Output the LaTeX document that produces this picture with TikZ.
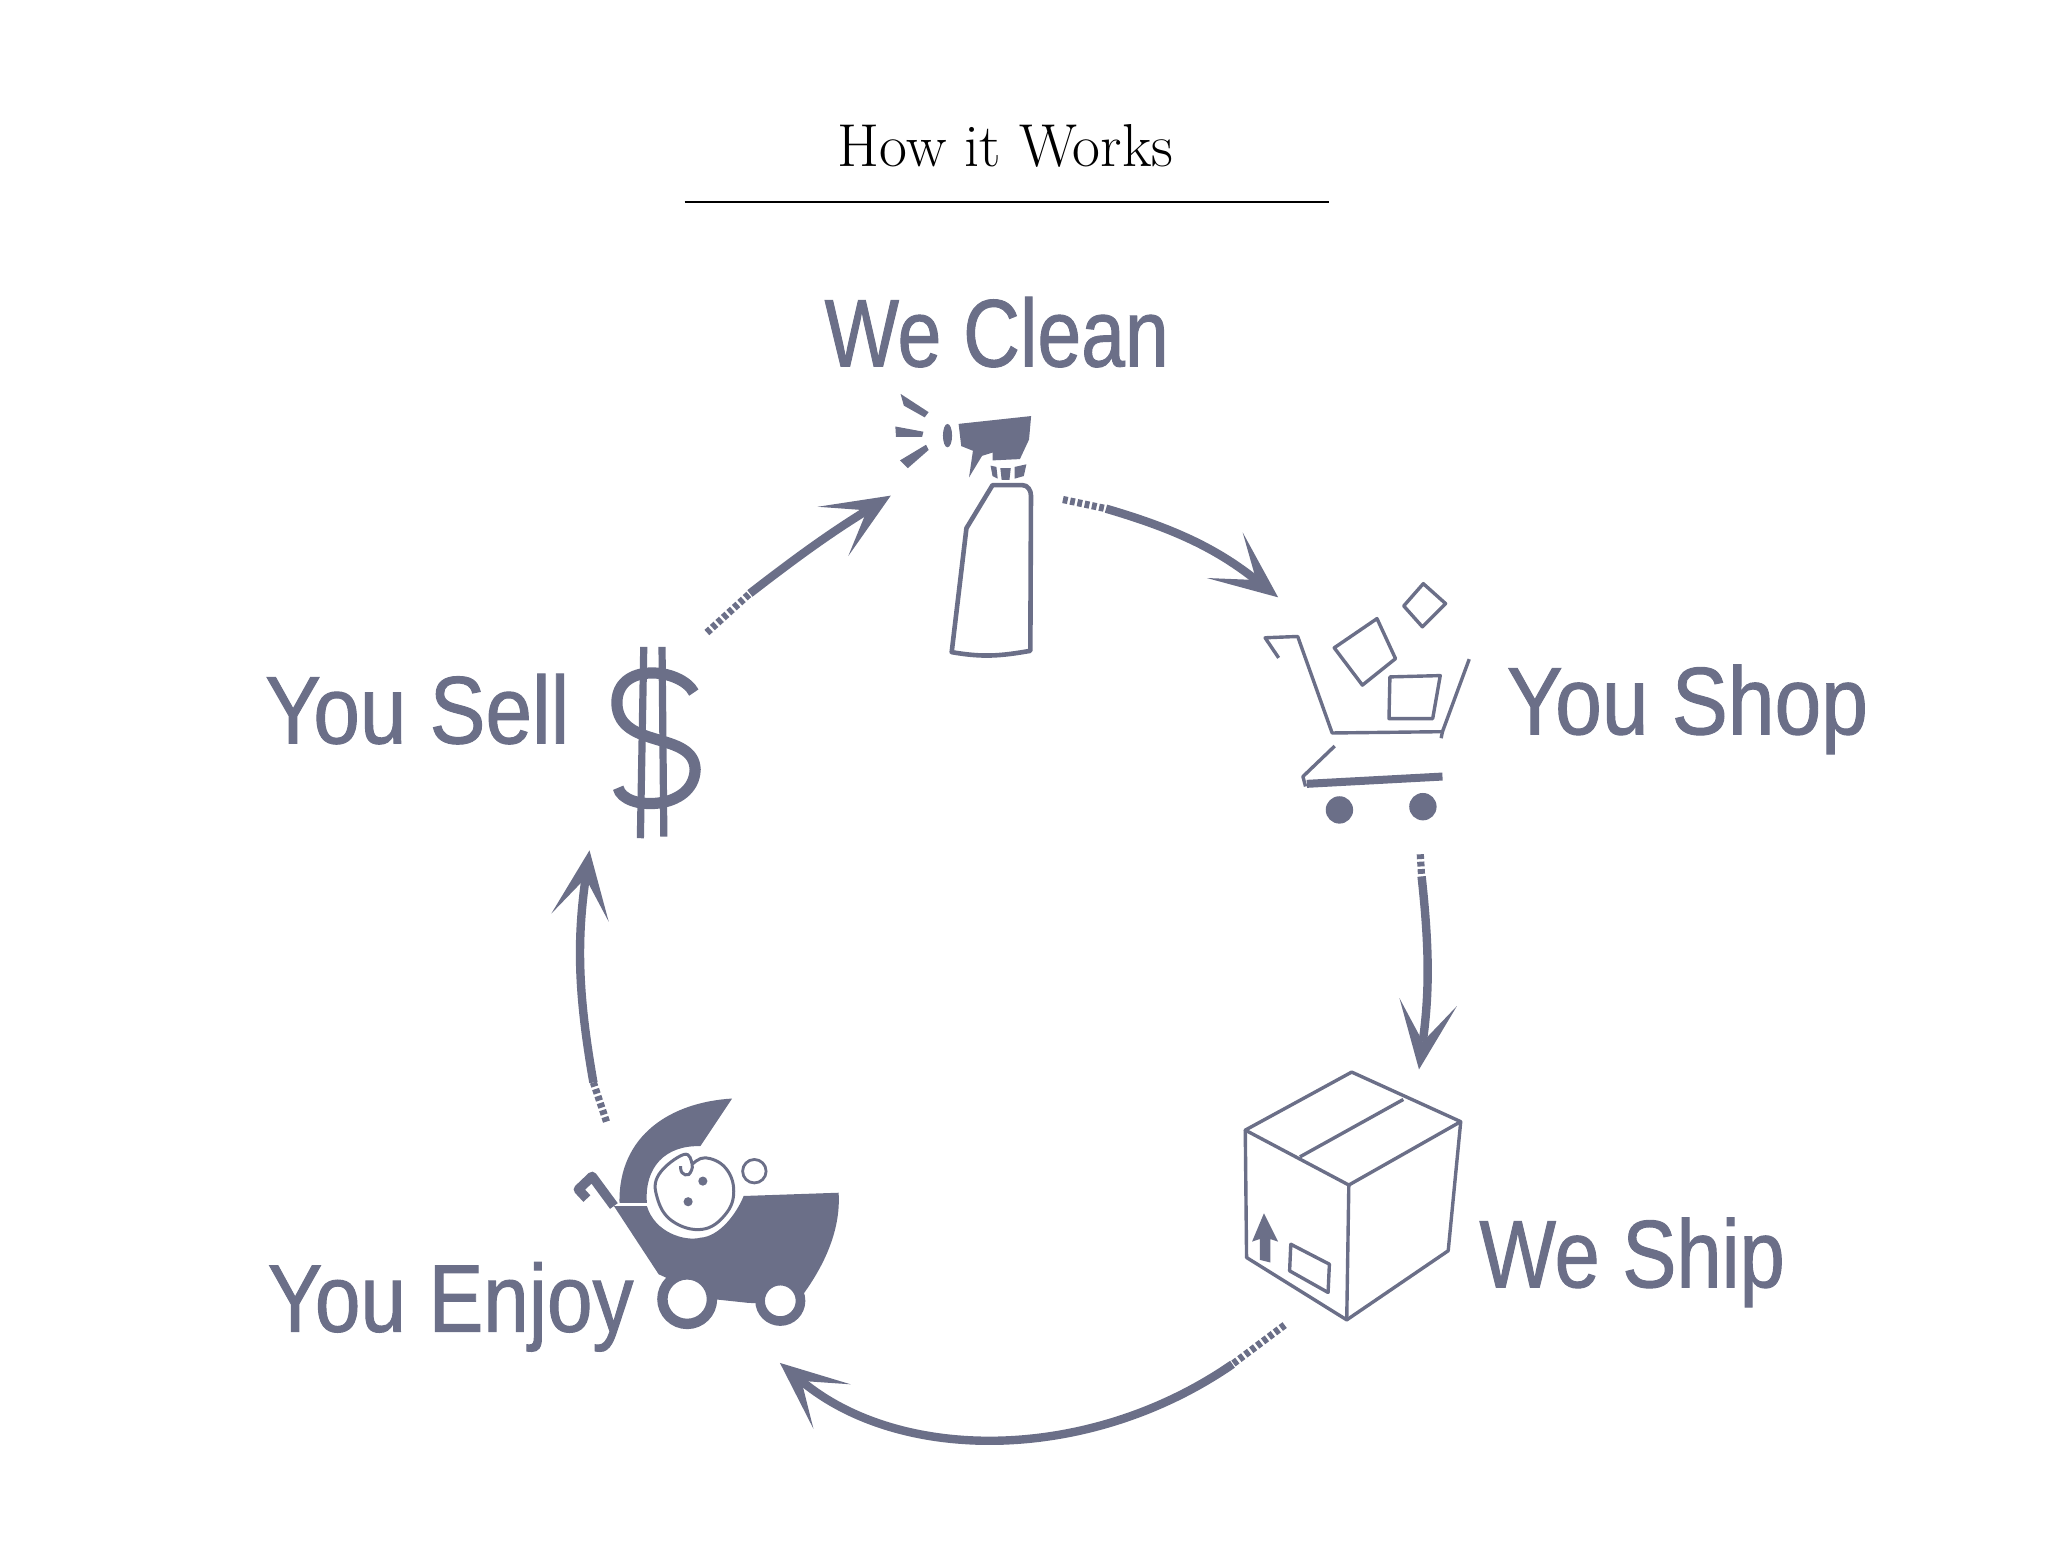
\documentclass[tikz,border=0pt]{standalone}
\usepackage{fontspec}
\setsansfont[FakeStretch=0.82, FakeBold=1]{Liberation Sans}
\usepackage{xcolor}
\usetikzlibrary{arrows.meta}
\definecolor{slate}{RGB}{107,111,136}

\begin{document}
\begin{tikzpicture}[
    x=0.6521pt,
    y=-0.6521pt,
    steplabel/.style={anchor=base west, inner sep=0pt, text=slate, font=\sffamily\fontsize{48}{48}\selectfont},
    thinline/.style={draw=slate, line width=1.7pt, line join=round},
    flow/.style={draw=slate, line width=4.2pt, -{Stealth[length=34pt, width=29pt, inset=20pt, line width=0pt, sep=0pt]}},
    hatch/.style={draw=slate, line width=3.6pt, dash pattern=on 2.4pt off 1.3pt}
]
    \useasboundingbox (0,0) rectangle (1568,1200);

    % Title
    \node[inner sep=0pt, anchor=base, font=\fontsize{30.3}{30}\selectfont] (title) at (771,128) {How it Works};
    \coordinate (ruleL) at (525,155);
    \coordinate (ruleR) at (1019,155);
    \draw[line width=1pt] (ruleL) -- (ruleR);

    % Labels
    \node[steplabel] (clean) at (632,281) {We Clean};
    \node[steplabel] (shop) at (1155,563) {\addfontfeature{FakeStretch=0.875}You Shop};
    \node[steplabel] (ship) at (1134,987) {\addfontfeature{FakeStretch=0.846}We Ship};
    \node[steplabel] (enjoy) at (205,1021) {\addfontfeature{FakeStretch=0.853}You Enjoy};
    \node[steplabel] (sell) at (203,570) {\addfontfeature{FakeStretch=0.872}You Sell};

    % Spray bottle
    \draw[thinline, line width=2.3pt] (761,372) -- (784,372) to[out=0,in=90] (790.5,380) -- (790,499)
        to[out=190,in=-10] (729.7,500) -- (741,405) -- cycle;
    \fill[slate] (735,325) -- (790.6,319) -- (789,337) -- (782,352) -- (761,353) -- (761,347)
        -- (753,349.5) -- (743,366) -- (746,345.6) -- (737,342) -- cycle;
    \fill[slate] (726.5,334) ellipse (3.5 and 9);
    \fill[slate] (759.5,357) -- (764,358) -- (765,367) -- (761,365) -- cycle;
    \fill[slate] (767,359) -- (775,359) -- (774,368) -- (768,368) -- cycle;
    \fill[slate] (778,358) -- (787,356) -- (785,365) -- (778,367) -- cycle;
    \fill[slate] (690.5,302) -- (712,316) -- (709,320) -- (693,311) -- cycle;
    \fill[slate] (686.5,327) -- (708,331) -- (707,335) -- (687,335) -- cycle;
    \fill[slate] (690,353) -- (710,341) -- (712,345) -- (696,359) -- cycle;

    % Shopping cart
    \draw[thinline] (980.4,504.4) -- (970,489) -- (995,488) -- (1021.4,562) -- (1106,561) -- (1126.5,505.4);
    \draw[thinline] (1106,561) -- (1105,566);
    \draw[thinline] (1023.4,572) -- (999,595.4) -- (1001,603);
    \draw[slate, line width=4pt] (1002,601) -- (1106,595.4);
    \fill[slate] (1027,621) circle (10.5);
    \fill[slate] (1091,618.5) circle (10.5);
    \draw[thinline] (1091.3,447.5) -- (1108.4,462.8) -- (1090.6,480.6) -- (1076.3,464.6) -- cycle;
    \draw[thinline] (1055.8,474.3) -- (1070,505) -- (1044.6,525.3) -- (1023,496.7) -- cycle;
    \draw[thinline] (1065.7,519) -- (1104.3,518) -- (1098.5,551) -- (1065,551) -- cycle;

    % Box
    \draw[thinline] (1036.4,822) -- (1120,860) -- (1034.2,908.6) -- (954.8,866.5) -- cycle;
    \draw[thinline] (954.8,866.5) -- (955.8,964.2) -- (1032.6,1012) -- (1110.4,959) -- (1120,860);
    \draw[thinline] (1034.2,908.6) -- (1032.6,1012);
    \draw[thinline] (1076,843) -- (996.7,887);
    \draw[thinline] (989.7,954) -- (1019.3,969.3) -- (1018.3,991) -- (988.8,974.4) -- cycle;
    \fill[slate] (969.1,930.3) -- (980,952) -- (974,950) -- (974,968) -- (966,966) -- (966,950) -- (960,952) -- cycle;

    % Pram
    \fill[slate] (561.3,842.3) .. controls (515,845) and (474,870) .. (475,922.2) -- (496,922.2)
        .. controls (494,895) and (510,878) .. (537,878.8) -- cycle;
    \fill[slate] (470.7,924.7) -- (496,924.7) .. controls (502,945) and (525,952) .. (537,949)
        .. controls (552,948) and (565,930) .. (570.2,917) -- (643,914.5)
        .. controls (645,945) and (630,975) .. (610,1000) -- (574,999) -- (546,996) -- (505,977) -- cycle;
    \draw[slate, line width=4.8pt, line join=round] (470.7,924.7) -- (454,902) -- (443.5,912) -- (450,919);
    \draw[slate, line width=5.2pt, fill=white] (526.9,996.1) circle (19);
    \draw[slate, line width=4.8pt, fill=white] (598.3,997.4) circle (15.5);
    \draw[white, line width=4.5pt, fill=white] plot[smooth cycle, tension=0.7] coordinates {(524.3,885.2) (505.2,900.5) (503.9,918.3) (515.4,936.2) (538.3,942.6) (556.2,931.1) (562.6,913.2) (556.2,895.4) (540.9,887.7) (530.7,892.8)};
    \draw[slate, line width=1.5pt] plot[smooth, tension=0.7] coordinates {(521.8,894.1) (523,899.2) (528.1,900.5) (530.7,892.8) (524.3,885.2) (505.2,900.5) (503.9,918.3) (515.4,936.2) (538.3,942.6) (556.2,931.1) (562.6,913.2) (556.2,895.4) (540.9,887.7) (530.7,892.8)};
    \fill[slate] (538.9,905.6) circle (3.5);
    \fill[slate] (527.6,921.4) circle (3.5);
    \draw[slate, line width=1.4pt] (578.4,898) circle (9);

    % Dollar
    \draw[slate, line width=5.6pt] (532,531) .. controls (522,512) and (472,507) .. (473,540)
        .. controls (475,575) and (532,560) .. (533,590) .. controls (532,622) and (478,622) .. (474,604);
    \draw[slate, line width=3.6pt] (493.6,496) -- (491,642.7);
    \draw[slate, line width=3.6pt] (507.6,496) -- (509,641.5);

    % Flow arrows
    \coordinate (cleanTail) at (815,383);
    \coordinate (cleanBody) at (848,390);
    \coordinate (shopTip) at (980,458);
    \coordinate (shopTail) at (1089,655);
    \coordinate (shopBody) at (1090,672);
    \coordinate (shipTip) at (1088,820);
    \coordinate (shipTail) at (985,1016);
    \coordinate (shipBody) at (945,1046);
    \coordinate (enjoyTip) at (598,1045);
    \coordinate (enjoyTail) at (465,860);
    \coordinate (enjoyBody) at (455,830);
    \coordinate (sellTip) at (452,652);
    \coordinate (sellTail) at (542,485);
    \coordinate (sellBody) at (575,455);
    \coordinate (cleanTip) at (683,380);
    \draw[hatch] (cleanTail) -- (cleanBody);
    \draw[flow] (cleanBody) to[bend left=11] (shopTip);
    \draw[hatch] (shopTail) -- (shopBody);
    \draw[flow] (shopBody) to[bend left=7] (shipTip);
    \draw[hatch] (shipTail) -- (shipBody);
    \draw[flow] (shipBody) .. controls (835,1122) and (690,1122) .. (enjoyTip);
    \draw[hatch] (enjoyTail) -- (enjoyBody);
    \draw[flow] (enjoyBody) to[bend left=9] (sellTip);
    \draw[hatch] (sellTail) -- (sellBody);
    \draw[flow] (sellBody) to[bend left=3] (cleanTip);
\end{tikzpicture}
\end{document}
